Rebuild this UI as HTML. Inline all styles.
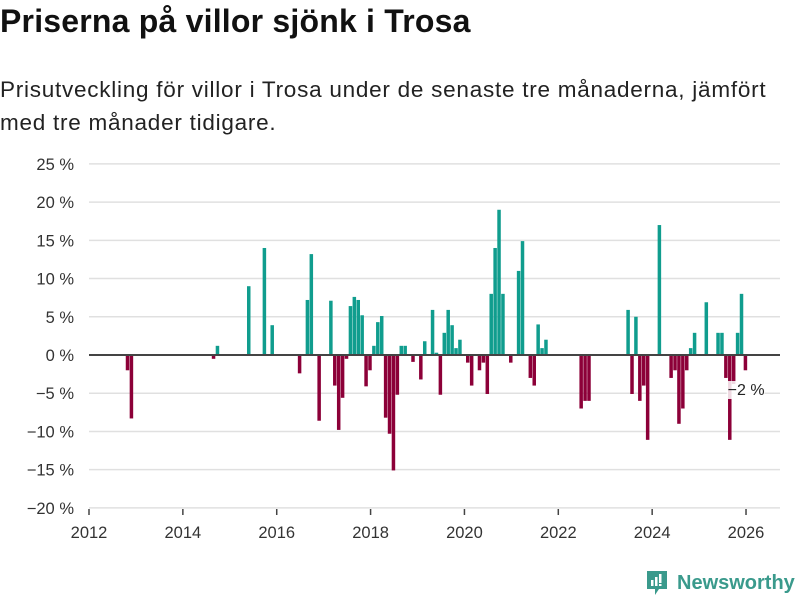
<!DOCTYPE html>
<html><head><meta charset="utf-8"><style>
body{margin:0;width:800px;height:600px;background:#fff;font-family:"Liberation Sans","DejaVu Sans",sans-serif;color:#111;overflow:hidden;position:relative}
#title{position:absolute;left:0;top:3px;font-size:32px;font-weight:bold;margin:0;letter-spacing:0.2px;white-space:nowrap}
#sub{position:absolute;left:0;top:73px;font-size:22.5px;line-height:33px;color:#222;width:800px;white-space:nowrap;letter-spacing:0.75px}
svg{position:absolute;left:0;top:0}
</style></head><body>
<h1 id="title">Priserna på villor sjönk i Trosa</h1>
<div id="sub">Prisutveckling för villor i Trosa under de senaste tre månaderna, jämfört<br>med tre månader tidigare.</div>
<svg id="chart" width="800" height="600"></svg>
<div style="position:absolute;left:645px;top:569px;display:flex;align-items:center;">
<svg width="24" height="28" viewBox="0 0 24 28" style="position:static"><path d="M2 2h20v18h-8l-4 6v-6H2z" fill="#3a9a8c"/><rect x="6" y="11" width="2.5" height="6" fill="#fff"/><rect x="10" y="8" width="2.5" height="9" fill="#fff"/><rect x="14" y="5" width="2.5" height="9" fill="#fff"/><rect x="14" y="15" width="2.5" height="2" fill="#fff"/></svg>
<span style="font-size:20px;font-weight:bold;color:#3a9a8c;margin-left:8px">Newsworthy</span></div>
<script>
const months=[9,10,31,32,40,44,46,53,55,56,58,61,62,63,64,65,66,67,68,69,70,71,72,73,74,75,76,77,78,79,80,82,84,85,87,88,89,90,91,92,93,94,96,97,99,100,101,102,103,104,105,107,109,110,112,113,114,115,116,125,126,127,137,138,139,140,141,142,145,148,149,150,151,152,153,154,157,160,161,162,163,164,165,166,167];
const values=[-2,-8.3,-0.5,1.2,9,14,3.9,-2.4,7.2,13.2,-8.6,7.1,-4,-9.8,-5.6,-0.5,6.4,7.6,7.2,5.2,-4.1,-2,1.2,4.3,5.1,-8.2,-10.3,-15.1,-5.2,1.2,1.2,-0.9,-3.2,1.8,5.9,0.3,-5.2,2.9,5.9,3.9,0.9,2,-1,-4,-2,-1,-5.1,8,14,19,8,-1,11,14.9,-3,-4,4,0.9,2,-7,-6,-6,5.9,-5.1,5,-6,-4,-11.1,17,-3,-2,-9,-7,-2,0.9,2.9,6.9,2.9,2.9,-3,-11.1,-3.8,2.9,8,-2];
const yTicks=[25,20,15,10,5,0,-5,-10,-15,-20];
const xTicks=[2012,2014,2016,2018,2020,2022,2024,2026];
const svg=document.getElementById('chart');const NS='http://www.w3.org/2000/svg';
const y=v=>355-v*7.644;
const xYear=t=>89+(t-2012)*46.93;
const xMonth=m=>89+(m+0.4)*46.93/12;
function mk(tag,attrs){const e=document.createElementNS(NS,tag);for(const k in attrs)e.setAttribute(k,attrs[k]);svg.appendChild(e);return e;}
yTicks.forEach(v=>{
 const l=mk('line',{x1:89,x2:780,y1:y(v),y2:y(v),stroke:'#e0e0e0','stroke-width':1.5});
 
 
 const t=mk('text',{x:74,y:y(v)+6,'text-anchor':'end','font-size':16.5,fill:'#333'});
 t.textContent=(v<0?'−'+(-v):v)+' %';
 
 
});
xTicks.forEach(v=>{
 const l=mk('line',{x1:xYear(v),x2:xYear(v),y1:509,y2:515,stroke:'#444','stroke-width':1.5});
 
 
 const t=mk('text',{x:xYear(v),y:538,'text-anchor':'middle','font-size':16.5,fill:'#333'});
 t.textContent=v;
 
 
});
months.forEach((m,i)=>{
 const v=values[i];
 const r=mk('rect',{x:xMonth(m),y:Math.min(y(v),y(0)),width:3.5,height:Math.abs(y(v)-y(0)),fill:v>=0?'#109d8e':'#8c0038'});
 
 
});
const z=mk('line',{x1:89,x2:780,y1:y(0),y2:y(0),stroke:'#444','stroke-width':2});


const lx=xMonth(months[months.length-1])-16;
const bg=mk('rect',{x:lx-1,y:381,width:38,height:18,fill:'#fff',opacity:0.85});


const lab=mk('text',{x:lx,y:395,'font-size':16,fill:'#222'});
lab.textContent='−2 %';


</script>
</body></html>
